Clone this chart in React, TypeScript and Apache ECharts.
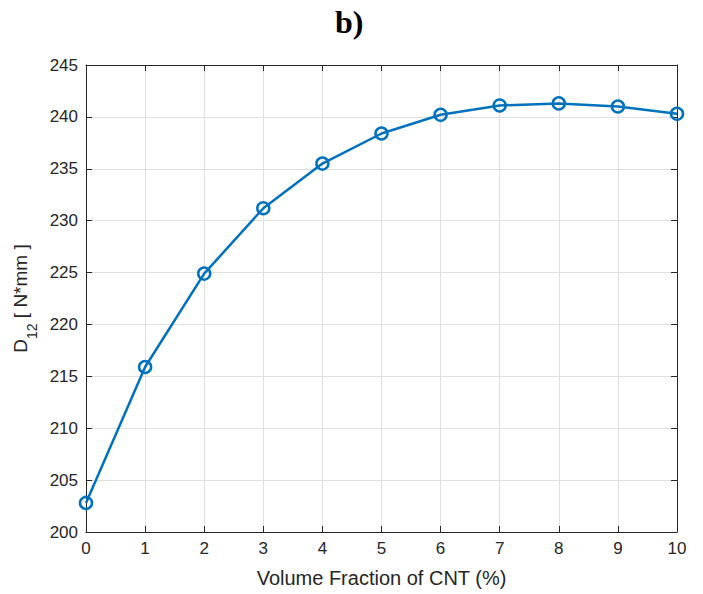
import React, { useEffect, useRef } from "react";
import * as echarts from "echarts";

const xValues = [0, 1, 2, 3, 4, 5, 6, 7, 8, 9, 10];
const d12Values = [202.8, 215.9, 224.9, 231.2, 235.5, 238.4, 240.2, 241.1, 241.3, 241.0, 240.3];
const titleText = "b)";
const xAxisName = "Volume Fraction of CNT (%)";

export default function App() {
  const ref = useRef<HTMLDivElement>(null);
  useEffect(() => {
    if (!ref.current) return;
    const chart = echarts.init(ref.current, undefined, { renderer: "svg" });
    const axisColor = "#262626";
    const labelFont = { fontFamily: "Liberation Sans, Arial, sans-serif", fontSize: 17, color: axisColor };
    const baseX = {
      type: "value" as const,
      min: 0,
      max: 10,
      interval: 1,
      axisLine: { show: true, onZero: false, lineStyle: { color: axisColor, width: 1 } },
      axisTick: { show: true, inside: true, length: 6, lineStyle: { color: axisColor } },
    };
    const baseY = {
      type: "value" as const,
      min: 200,
      max: 245,
      interval: 5,
      axisLine: { show: true, onZero: false, lineStyle: { color: axisColor, width: 1 } },
      axisTick: { show: true, inside: true, length: 6, lineStyle: { color: axisColor } },
    };
    chart.setOption({
      animation: false,
      backgroundColor: "#ffffff",
      title: {
        text: titleText,
        left: 330,
        top: 1,
        textStyle: { fontFamily: "Liberation Serif, Times New Roman, serif", fontWeight: "bold", fontSize: 32, color: "#000" },
      },
      grid: { left: 86, right: 26, top: 65, bottom: 62 },
      xAxis: [
        {
          ...baseX,
          position: "bottom",
          name: xAxisName,
          nameLocation: "middle",
          nameGap: 36,
          nameTextStyle: { ...labelFont, fontSize: 20 },
          axisLabel: { ...labelFont, margin: 8 },
          splitLine: { show: true, lineStyle: { color: "#dfdfdf", width: 1 } },
        },
        {
          ...baseX,
          position: "top",
          axisLabel: { show: false },
          splitLine: { show: false },
        },
      ],
      yAxis: [
        {
          ...baseY,
          position: "left",
          name: "{a|D}{s|12}{a| [ N*mm ]}",
          nameLocation: "middle",
          nameRotate: 90,
          nameGap: 52,
          nameTextStyle: {
            rich: {
              a: { ...labelFont, fontSize: 19, verticalAlign: "top", lineHeight: 22 },
              s: { ...labelFont, fontSize: 14, verticalAlign: "bottom", lineHeight: 22, padding: [0, 0, -6, 0] },
            },
          },
          axisLabel: { ...labelFont, margin: 8 },
          splitLine: { show: true, lineStyle: { color: "#dfdfdf", width: 1 } },
        },
        {
          ...baseY,
          position: "right",
          axisLabel: { show: false },
          splitLine: { show: false },
        },
      ],
      series: [
        {
          type: "line",
          data: xValues.map((x, i) => [x, d12Values[i]]),
          symbol: "circle",
          symbolSize: 12,
          lineStyle: { color: "#0072BD", width: 2.5 },
          itemStyle: { color: "rgba(0,0,0,0)", borderColor: "#0072BD", borderWidth: 2.5 },
        },
      ],
    });
    return () => chart.dispose();
  }, []);
  return <div ref={ref} style={{ width: 703, height: 594, position: "absolute", left: 0, top: 0 }} />;
}
